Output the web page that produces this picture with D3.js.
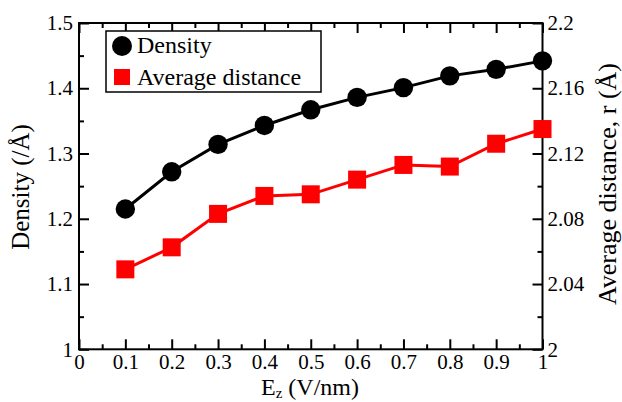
<!DOCTYPE html>
<html>
<head>
<meta charset="utf-8">
<script src="https://cdn.jsdelivr.net/npm/d3@7"></script>
<style>
	body { margin: 0; background: #fff; }
	svg { display: block; font-family: "Liberation Serif", "Times New Roman", serif; }
	.axis path { display: none; }
	.axis line { stroke: #000; stroke-width: 2; }
	.axis text { font-size: 21px; fill: #000; font-family: "Liberation Serif", serif; }
</style>
</head>
<body>
<svg id="chart" width="622" height="402"></svg>
<script>
// chart values
const ezValues = [0.1, 0.2, 0.3, 0.4, 0.5, 0.6, 0.7, 0.8, 0.9, 1.0];
const densityValues = [1.215, 1.272, 1.314, 1.343, 1.367, 1.386, 1.401, 1.419, 1.429, 1.442];
const distanceValues = [2.049, 2.0625, 2.083, 2.094, 2.095, 2.104, 2.113, 2.112, 2.126, 2.135];

const xTicks = [0, 0.1, 0.2, 0.3, 0.4, 0.5, 0.6, 0.7, 0.8, 0.9, 1];
const xMinorTicks = [0.05, 0.15, 0.25, 0.35, 0.45, 0.55, 0.65, 0.75, 0.85, 0.95];
const leftTicks = [1, 1.1, 1.2, 1.3, 1.4, 1.5];
const leftMinorTicks = [1.05, 1.15, 1.25, 1.35, 1.45];
const rightTicks = [2, 2.04, 2.08, 2.12, 2.16, 2.2];
const rightMinorTicks = [2.02, 2.06, 2.10, 2.14, 2.18];
const legendLabels = ["Density", "Average distance"];

const d3 = window.d3,
	margin = { top: 23, right: 79.5, bottom: 52.7, left: 79 },
	width = 622,
	height = 402,
	fmt = d => String(+d.toFixed(2)),
	x = d3.scaleLinear().domain([0, 1]).range([margin.left, width - margin.right]),
	yLeft = d3.scaleLinear().domain([1, 1.5]).range([height - margin.bottom, margin.top]),
	yRight = d3.scaleLinear().domain([2, 2.2]).range([height - margin.bottom, margin.top]);

const svg = d3.select("#chart");

// ticks, all pointing inward
svg.append("g").attr("class", "axis")
	.attr("transform", `translate(0,${height - margin.bottom})`)
	.call(d3.axisBottom(x).tickValues(xTicks).tickSize(-10).tickPadding(5).tickFormat(fmt));
svg.append("g").attr("class", "axis")
	.attr("transform", `translate(0,${height - margin.bottom})`)
	.call(d3.axisBottom(x).tickValues(xMinorTicks).tickSize(-5).tickFormat(""));
svg.append("g").attr("class", "axis")
	.attr("transform", `translate(0,${margin.top})`)
	.call(d3.axisTop(x).tickValues(xTicks).tickSize(-10).tickFormat(""));
svg.append("g").attr("class", "axis")
	.attr("transform", `translate(0,${margin.top})`)
	.call(d3.axisTop(x).tickValues(xMinorTicks).tickSize(-5).tickFormat(""));

svg.append("g").attr("class", "axis")
	.attr("transform", `translate(${margin.left},0)`)
	.call(d3.axisLeft(yLeft).tickValues(leftTicks).tickSize(-10).tickPadding(6).tickFormat(fmt));
svg.append("g").attr("class", "axis")
	.attr("transform", `translate(${margin.left},0)`)
	.call(d3.axisLeft(yLeft).tickValues(leftMinorTicks).tickSize(-5).tickFormat(""));

svg.append("g").attr("class", "axis")
	.attr("transform", `translate(${width - margin.right},0)`)
	.call(d3.axisRight(yRight).tickValues(rightTicks).tickSize(-10).tickPadding(5).tickFormat(fmt));
svg.append("g").attr("class", "axis")
	.attr("transform", `translate(${width - margin.right},0)`)
	.call(d3.axisRight(yRight).tickValues(rightMinorTicks).tickSize(-5).tickFormat(""));

// frame
svg.append("rect")
	.attr("x", margin.left)
	.attr("y", margin.top)
	.attr("width", width - margin.right - margin.left)
	.attr("height", height - margin.bottom - margin.top)
	.attr("fill", "none")
	.attr("stroke", "#000")
	.attr("stroke-width", 2);

// series
const densityData = ezValues.map((e, i) => ({ e, v: densityValues[i] }));
const distanceData = ezValues.map((e, i) => ({ e, v: distanceValues[i] }));

svg.append("path")
	.datum(densityData)
	.attr("fill", "none")
	.attr("stroke", "#000")
	.attr("stroke-width", 3)
	.attr("d", d3.line().x(d => x(d.e)).y(d => yLeft(d.v)));

svg.append("path")
	.datum(distanceData)
	.attr("fill", "none")
	.attr("stroke", "#ff0000")
	.attr("stroke-width", 3)
	.attr("d", d3.line().x(d => x(d.e)).y(d => yRight(d.v)));

svg.selectAll("circle.density")
	.data(densityData)
	.join("circle")
	.attr("class", "density")
	.attr("cx", d => x(d.e))
	.attr("cy", d => yLeft(d.v))
	.attr("r", 9.7)
	.attr("fill", "#000");

const sq = 18;
svg.selectAll("rect.distance")
	.data(distanceData)
	.join("rect")
	.attr("class", "distance")
	.attr("x", d => x(d.e) - sq / 2)
	.attr("y", d => yRight(d.v) - sq / 2)
	.attr("width", sq)
	.attr("height", sq)
	.attr("fill", "#ff0000");

// legend
const legend = svg.append("g");
legend.append("rect")
	.attr("x", 106)
	.attr("y", 31)
	.attr("width", 215)
	.attr("height", 61)
	.attr("fill", "#fff")
	.attr("stroke", "#000")
	.attr("stroke-width", 1.5);
legend.append("circle")
	.attr("cx", 122)
	.attr("cy", 46)
	.attr("r", 10)
	.attr("fill", "#000");
legend.append("rect")
	.attr("x", 114)
	.attr("y", 69)
	.attr("width", 16)
	.attr("height", 16)
	.attr("fill", "#ff0000");
legend.selectAll("text")
	.data(legendLabels)
	.join("text")
	.attr("x", 137)
	.attr("y", (d, i) => 53 + i * 32)
	.attr("font-size", 24)
	.text(d => d);

// axis titles
const xTitle = svg.append("text")
	.attr("x", 310)
	.attr("y", 395)
	.attr("text-anchor", "middle")
	.attr("font-size", 24);
xTitle.append("tspan").text("E");
xTitle.append("tspan").attr("dy", 3).attr("font-size", 15).text("z");
xTitle.append("tspan").attr("dy", -3).text(" (V/nm)");

svg.append("text")
	.attr("transform", "translate(29,187) rotate(-90)")
	.attr("text-anchor", "middle")
	.attr("font-size", 25)
	.text("Density (/Å)");

svg.append("text")
	.attr("transform", "translate(616,184) rotate(-90)")
	.attr("text-anchor", "middle")
	.attr("font-size", 26)
	.text("Average distance, r (Å)");
</script>
</body>
</html>
